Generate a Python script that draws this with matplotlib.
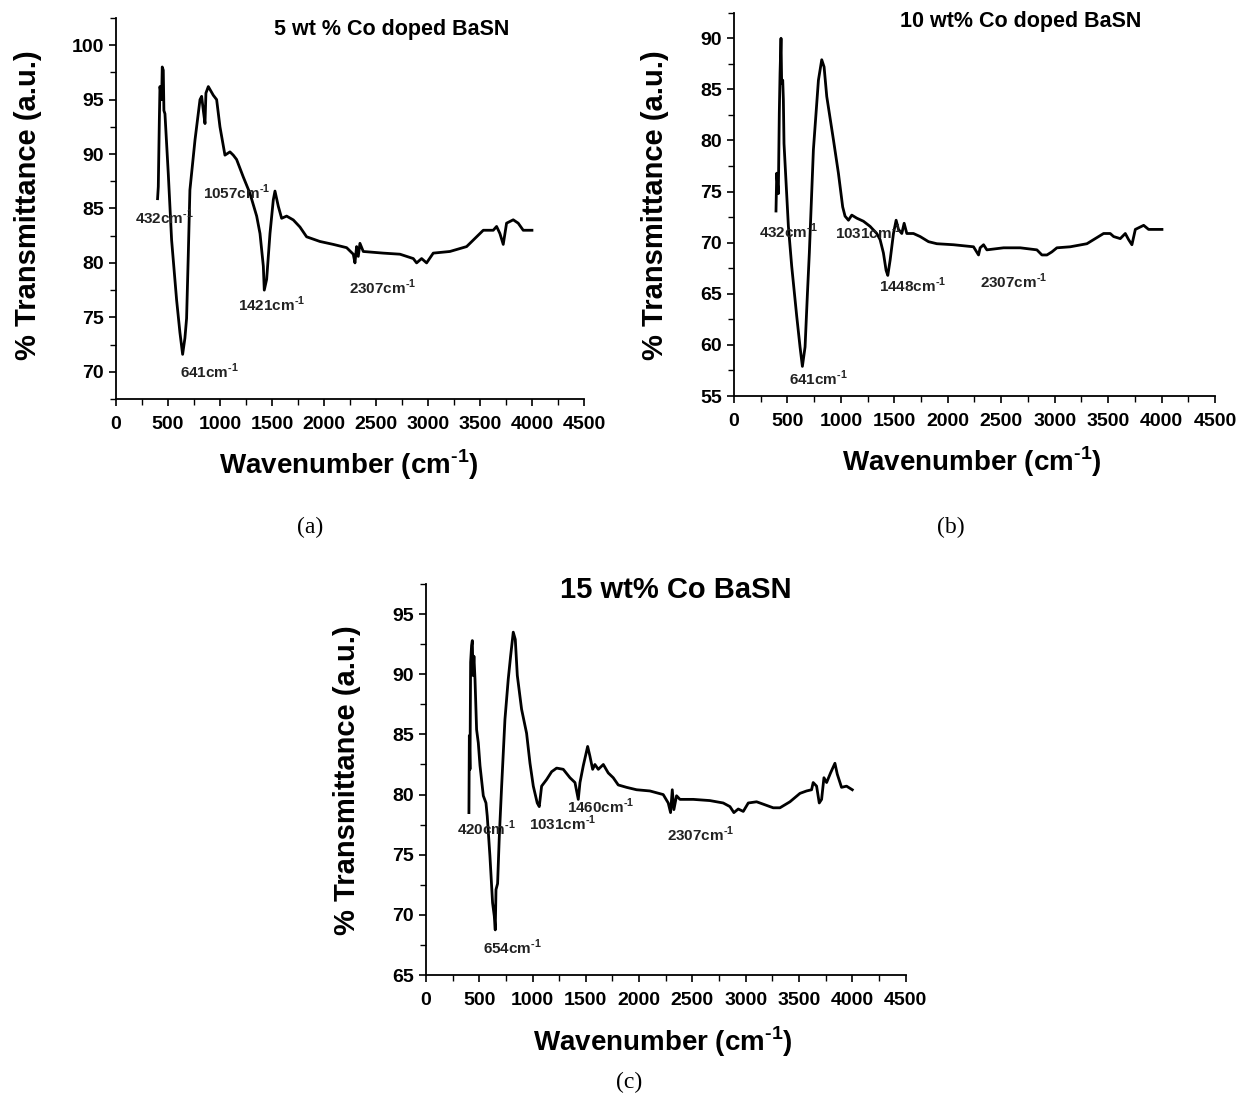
import matplotlib
matplotlib.use("Agg")
import matplotlib.pyplot as plt
from matplotlib.ticker import MultipleLocator

plt.rcParams['font.family'] = ['Liberation Sans', 'DejaVu Sans']
plt.rcParams['mathtext.fontset'] = 'custom'
plt.rcParams['mathtext.rm'] = 'Liberation Sans:bold'
plt.rcParams['mathtext.bf'] = 'Liberation Sans:bold'

SUP = r'cm$^{\text{-}1}$'

# ---- (a) 5 wt% Co doped BaSN ----
a_wn = [400, 407, 417, 423, 439, 445, 455, 461, 471, 503,
        535, 583, 615, 641, 663, 679, 695, 711, 760, 808,
        824, 840, 856, 865, 888, 936, 968, 1000, 1048, 1096,
        1128, 1160, 1224, 1288, 1353, 1385, 1417, 1426, 1449, 1481,
        1513, 1529, 1561, 1593, 1641, 1705, 1769, 1833, 1961, 2090,
        2218, 2282, 2298, 2314, 2330, 2346, 2378, 2570, 2731, 2859,
        2891, 2939, 2987, 3051, 3211, 3372, 3468, 3532, 3628, 3660,
        3692, 3724, 3756, 3820, 3868, 3916, 4000]
a_tr = [85.9, 87.0, 93.1, 96.2, 95.0, 98.0, 97.7, 94.0, 93.7, 88.2,
        82.1, 76.6, 73.6, 71.6, 73.1, 74.9, 80.6, 86.7, 91.3, 95.0,
        95.3, 94.0, 92.8, 95.6, 96.2, 95.4, 95.0, 92.5, 89.9, 90.2,
        89.9, 89.5, 87.9, 86.4, 84.3, 82.7, 79.7, 77.5, 78.5, 82.7,
        85.8, 86.6, 85.2, 84.1, 84.3, 83.95, 83.3, 82.4, 81.97, 81.7,
        81.4, 80.8, 80.0, 81.5, 80.6, 81.8, 81.05, 80.9, 80.8, 80.4,
        80.0, 80.4, 80.0, 80.9, 81.05, 81.5, 82.4, 83.0, 83.0, 83.35,
        82.7, 81.7, 83.65, 83.96, 83.65, 83.0, 83.0]
a_peaks = ['432', '1057', '1421', '641', '2307']
a_peak_x = [183, 837, 1173, 615, 2240]
a_peak_y = [84.2, 86.5, 76.2, 70.0, 77.8]

# ---- (b) 10 wt% Co doped BaSN ----
b_wn = [393, 400, 415, 424, 431, 440, 446, 456, 462, 468,
        509, 540, 587, 618, 640, 665, 687, 705, 743, 790,
        821, 843, 868, 930, 977, 1017, 1039, 1071, 1102, 1149,
        1211, 1273, 1336, 1367, 1398, 1423, 1439, 1461, 1492, 1517,
        1539, 1570, 1592, 1617, 1679, 1742, 1820, 1898, 2054, 2241,
        2288, 2303, 2335, 2366, 2522, 2678, 2834, 2881, 2928, 2974,
        3021, 3146, 3302, 3458, 3520, 3552, 3614, 3661, 3692, 3723,
        3755, 3833, 3879, 3926, 4004]
b_tr = [73.1, 76.8, 74.8, 82.7, 86.6, 90.0, 85.6, 85.9, 84.0, 79.7,
        71.6, 67.7, 62.8, 59.8, 57.9, 59.8, 65.0, 69.0, 79.1, 85.9,
        87.9, 87.2, 84.3, 80.1, 76.8, 73.5, 72.6, 72.2, 72.7, 72.4,
        72.1, 71.6, 70.9, 70.3, 69.0, 67.3, 66.8, 68.3, 70.9, 72.2,
        71.3, 70.9, 71.9, 70.9, 70.9, 70.6, 70.1, 69.9, 69.8, 69.6,
        68.8, 69.5, 69.8, 69.3, 69.5, 69.5, 69.3, 68.8, 68.8, 69.1,
        69.5, 69.6, 69.9, 70.9, 70.9, 70.6, 70.4, 70.9, 70.3, 69.8,
        71.3, 71.7, 71.3, 71.3, 71.3]
b_peaks = ['432', '1031', '1448', '641', '2307']
b_peak_x = [234, 945, 1356, 515, 2301]
b_peak_y = [71.1, 71.0, 65.8, 56.7, 66.2]

# ---- (c) 15 wt% Co BaSN ----
c_wn = [403, 407, 413, 419, 428, 435, 441, 450, 460, 475,
        491, 507, 538, 563, 575, 600, 625, 641, 650, 657,
        672, 688, 710, 741, 772, 794, 819, 838, 857, 897,
        944, 976, 1007, 1044, 1063, 1085, 1132, 1179, 1226, 1288,
        1351, 1398, 1429, 1445, 1476, 1517, 1538, 1564, 1585, 1617,
        1664, 1710, 1757, 1804, 1882, 1976, 2101, 2226, 2273, 2295,
        2311, 2326, 2351, 2383, 2508, 2664, 2789, 2852, 2889, 2930,
        2977, 3024, 3102, 3165, 3258, 3321, 3415, 3509, 3571, 3618,
        3633, 3665, 3690, 3712, 3734, 3759, 3796, 3837, 3859, 3899,
        3946, 4000]
c_tr = [78.5, 84.9, 82.1, 91.0, 92.4, 92.8, 89.9, 91.5, 89.6, 85.4,
        84.3, 82.4, 79.9, 79.3, 78.2, 74.9, 71.0, 69.9, 68.75, 72.1,
        72.6, 76.5, 80.7, 86.25, 89.6, 91.5, 93.5, 92.9, 89.9, 87.1,
        85.1, 82.6, 80.7, 79.3, 79.0, 80.7, 81.25, 81.9, 82.2, 82.1,
        81.4, 81.0, 79.6, 81.0, 82.4, 84.0, 83.2, 82.1, 82.5, 82.1,
        82.5, 81.8, 81.4, 80.8, 80.6, 80.4, 80.3, 80.0, 79.3, 78.5,
        80.4, 78.75, 79.9, 79.6, 79.6, 79.5, 79.3, 79.0, 78.5, 78.8,
        78.6, 79.3, 79.4, 79.2, 78.9, 78.9, 79.4, 80.1, 80.3, 80.4,
        81.0, 80.7, 79.3, 79.6, 81.4, 81.0, 81.8, 82.6, 81.7, 80.6,
        80.7, 80.4]
c_peaks = ['420', '1031', '1460', '654', '2307']
c_peak_x = [291, 966, 1323, 535, 2261]
c_peak_y = [77.2, 77.6, 79.0, 67.3, 76.7]


def ftir_panel(ax, wn, tr, ylim, title, title_pos, title_size, peaks, px, py, xlab_pos, ylab_pos):
    ax.plot(wn, tr, color='black', lw=2.0)
    ax.set_xlim(0, 4500)
    ax.set_ylim(*ylim)
    ax.xaxis.set_major_locator(MultipleLocator(500))
    ax.xaxis.set_minor_locator(MultipleLocator(250))
    ax.yaxis.set_major_locator(MultipleLocator(5))
    ax.yaxis.set_minor_locator(MultipleLocator(2.5))
    ax.spines['top'].set_visible(False)
    ax.spines['right'].set_visible(False)
    for s in ['left', 'bottom']:
        ax.spines[s].set_linewidth(1.3)
    ax.tick_params(which='major', direction='out', length=5, width=1.2, labelsize=14)
    ax.tick_params(axis='x', which='major', pad=7)
    ax.tick_params(which='minor', direction='out', length=4, width=1.0)
    for lab in ax.get_xticklabels() + ax.get_yticklabels():
        lab.set_fontweight('bold')

    ax.set_xlabel(r'Wavenumber (cm$^{\mathbf{\text{-}1}}$)', fontsize=20, fontweight='bold', va='center')
    ax.xaxis.set_label_coords(*xlab_pos)
    ax.set_ylabel('% Transmittance (a.u.)', fontsize=21, fontweight='bold', va='center')
    ax.yaxis.set_label_coords(*ylab_pos)

    ax.text(title_pos[0], title_pos[1], title, transform=ax.transAxes, ha='center', va='center',
            fontsize=title_size, fontweight='bold')
    # peak positions
    for t, x, y in zip(peaks, px, py):
        ax.text(x, y, t + SUP, ha='left', va='center', fontsize=11, fontweight='bold', color='#222222')


fig = plt.figure(figsize=(12.39, 10.97), dpi=100)

ax_a = fig.add_axes([0.0936, 0.6363, 0.3777, 0.3473])
ftir_panel(ax_a, a_wn, a_tr, (67.5, 102.5), '5 wt % Co doped BaSN', (0.59, 0.969), 15.5,
           a_peaks, a_peak_x, a_peak_y, (0.498, -0.173), (-0.188, 0.509))

ax_b = fig.add_axes([0.5924, 0.639, 0.3882, 0.3494])
ftir_panel(ax_b, b_wn, b_tr, (55, 92.5), '10 wt% Co doped BaSN', (0.597, 0.976), 15.5,
           b_peaks, b_peak_x, b_peak_y, (0.495, -0.172), (-0.164, 0.498))

ax_c = fig.add_axes([0.3438, 0.1112, 0.3871, 0.3564])
ftir_panel(ax_c, c_wn, c_tr, (65, 97.5), '15 wt% Co BaSN', (0.521, 0.985), 21,
           c_peaks, c_peak_x, c_peak_y, (0.494, -0.171), (-0.165, 0.499))

# sub-figure captions
for lab, x, y in [('(a)', 0.250, 0.519), ('(b)', 0.767, 0.519), ('(c)', 0.508, 0.0137)]:
    fig.text(x, y, lab, ha='center', va='center', fontsize=17, family='Liberation Serif')

fig.savefig('out.png', dpi=100)
